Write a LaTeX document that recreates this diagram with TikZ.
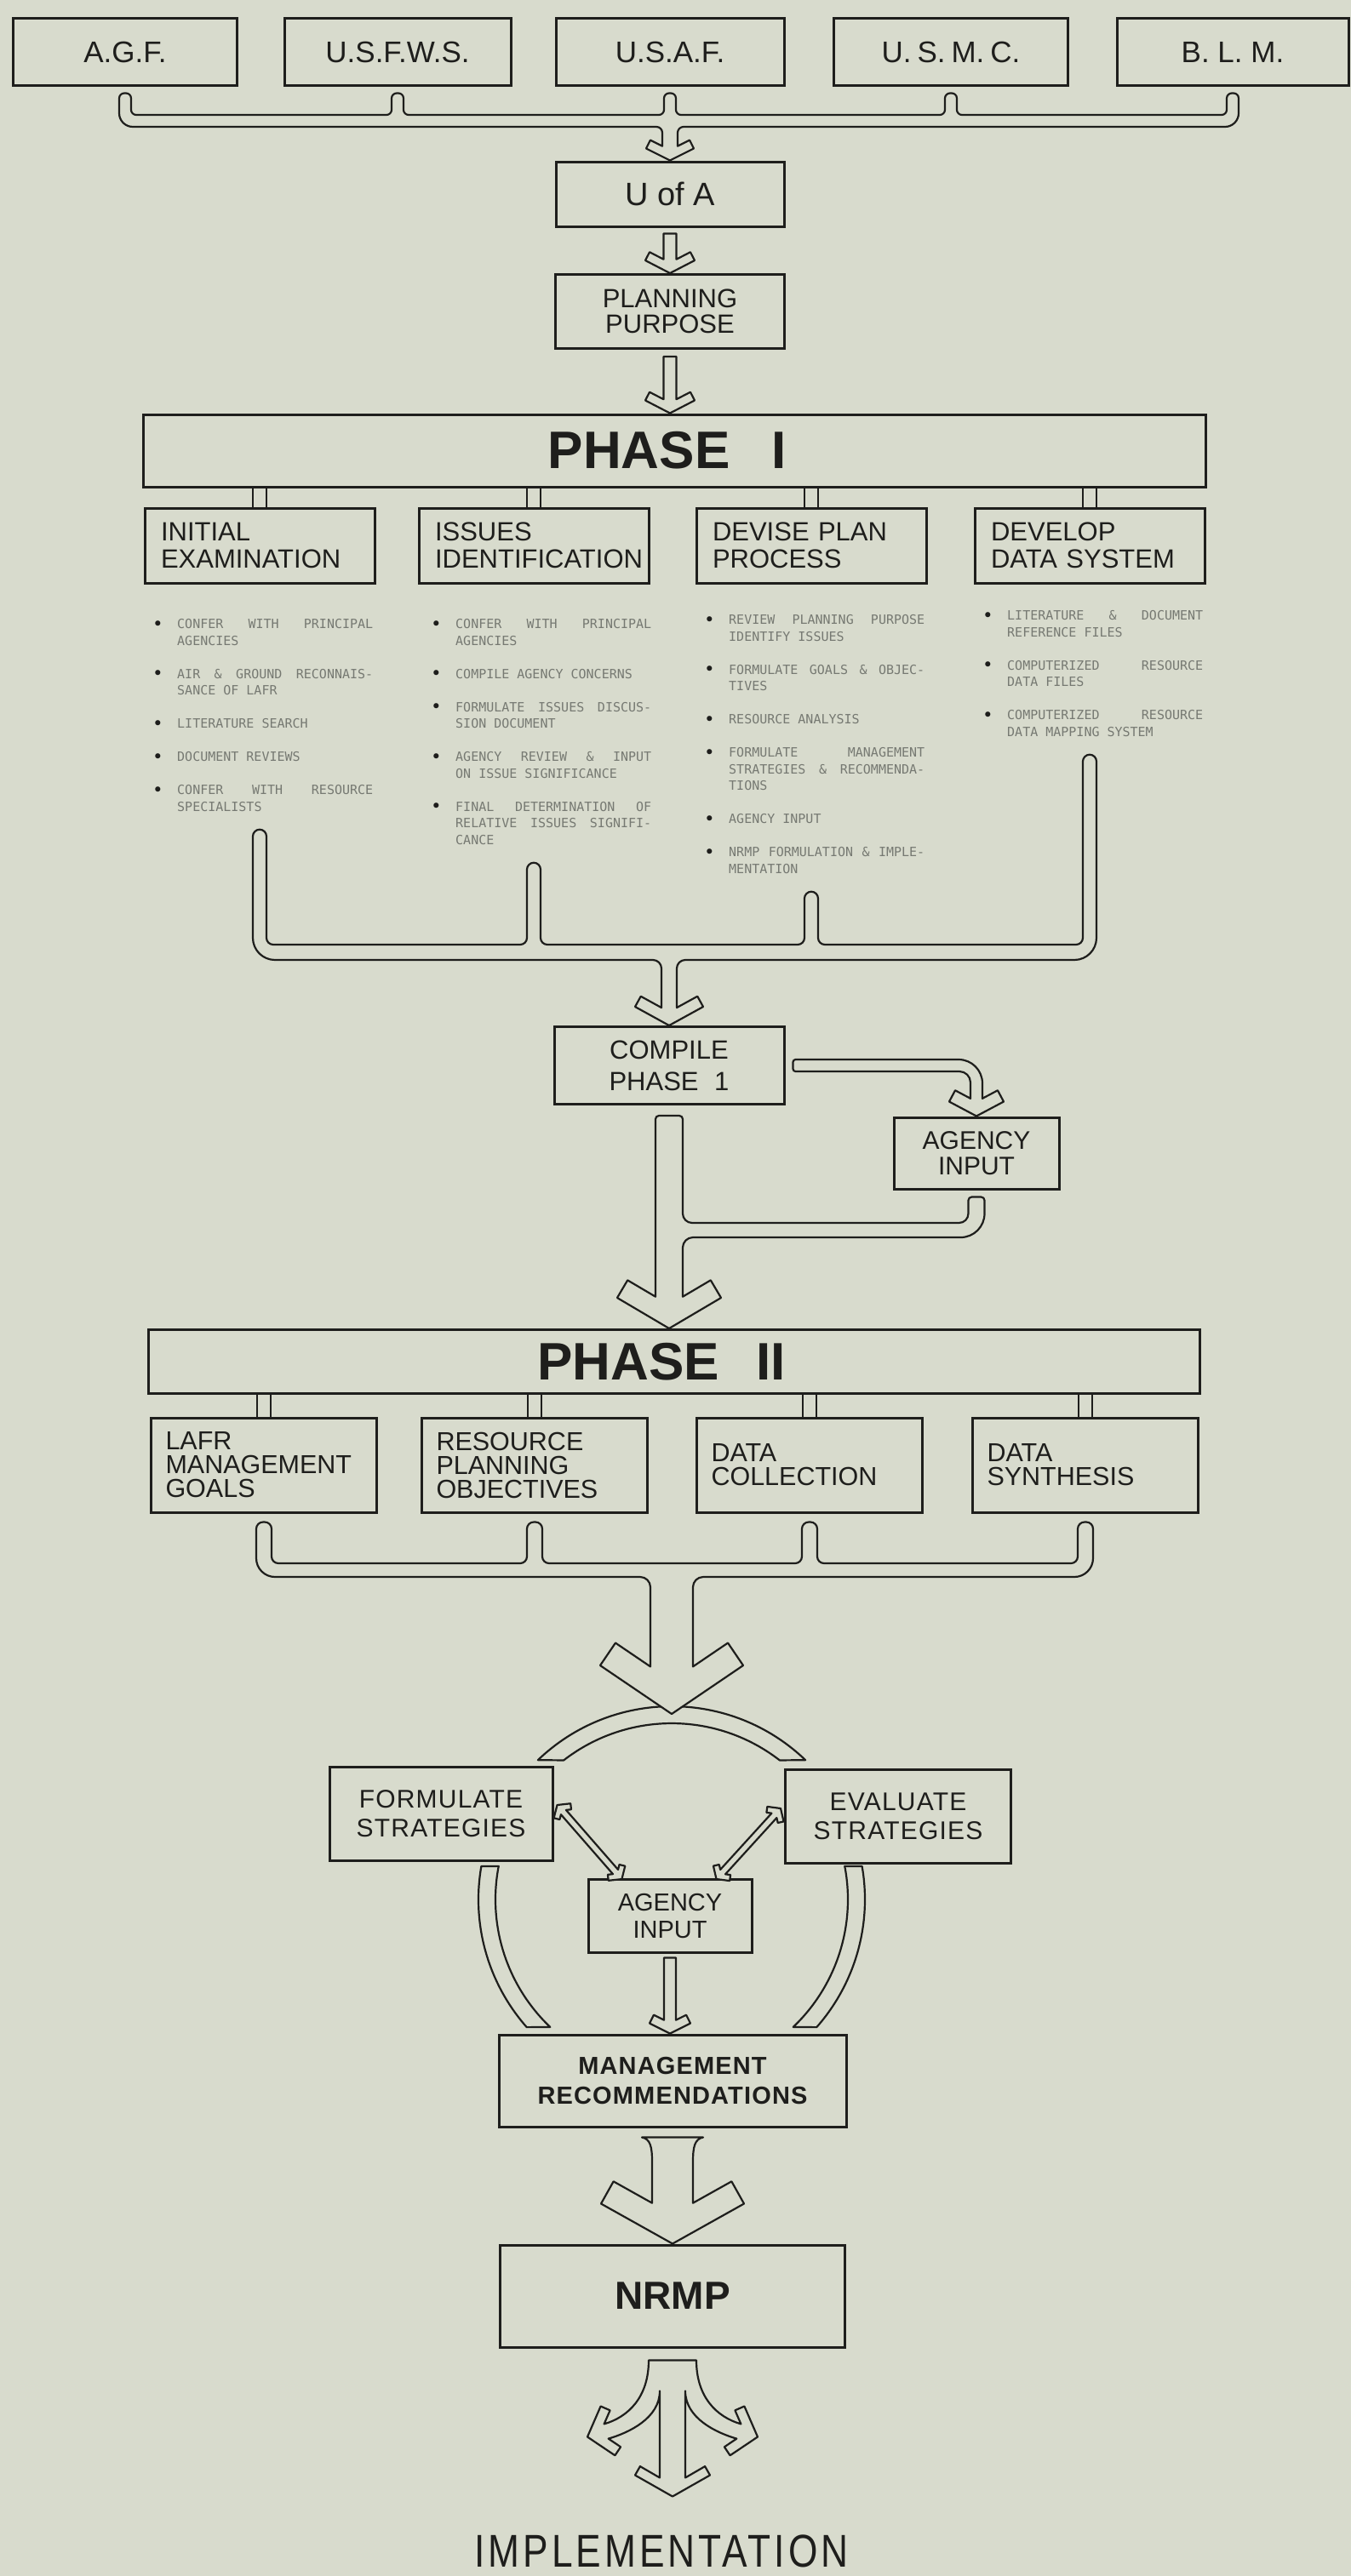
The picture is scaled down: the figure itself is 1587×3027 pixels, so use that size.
\documentclass[tikz,border=0pt]{standalone}
\usepackage{fontspec}
\setmainfont{Liberation Sans}
\newfontfamily\dotfont{DejaVu Sans Mono}
\newfontfamily\trackfont[LetterSpace=4]{Liberation Sans}
\newfontfamily\widefont[LetterSpace=9]{Liberation Sans}
\usepackage{graphicx}
\usetikzlibrary{calc}
\definecolor{bg}{RGB}{216,219,205}
\definecolor{ink}{RGB}{30,30,28}
\definecolor{dotgray}{RGB}{118,121,114}
\tikzset{
  box/.style={draw=ink, line width=3pt, fill=bg, inner sep=0pt, align=center, text=ink},
  agency/.style={box, minimum height=78pt, font=\fontsize{35}{40}\selectfont},
  p1box/.style={box, text width=232pt, inner xsep=19pt, minimum height=88pt, align=left, font=\fontsize{31}{32}\selectfont},
  p2box/.style={box, text width=231pt, inner xsep=17pt, minimum height=111pt, align=left, font=\fontsize{30.5}{28}\selectfont},
  phasebox/.style={box, font=\bfseries\fontsize{62}{62}\selectfont},
  pipe/.style={draw=ink, line width=2.2pt, fill=bg, line join=round},
  stubline/.style={draw=ink, line width=2pt},
  listnode/.style={anchor=north west, inner sep=0pt, text=dotgray},
}
% chevron arrow head: name, tip, left shaft half width, right shaft half width, head half width, drop, wing length
\newcommand\defchev[7]{%
  \pgfmathsetmacro\chL{sqrt((#5)*(#5)+(#6)*(#6))}%
  \pgfmathsetmacro\chWl{(#5)-(#7)*(#6)/\chL}%
  \pgfmathsetmacro\chWb{(#6)+(#7)*(#5)/\chL}%
  \pgfmathsetmacro\chSL{\chWb-(\chWl-(#3))*(#6)/(#5)}%
  \pgfmathsetmacro\chSR{\chWb-(\chWl-(#4))*(#6)/(#5)}%
  \coordinate (#1-T) at (#2);%
  \coordinate (#1-W2L) at ($(#2)+(-#5,-#6)$);%
  \coordinate (#1-W2R) at ($(#2)+(#5,-#6)$);%
  \coordinate (#1-W1L) at ($(#2)+(-\chWl,-\chWb)$);%
  \coordinate (#1-W1R) at ($(#2)+(\chWl,-\chWb)$);%
  \coordinate (#1-SL) at ($(#2)+(-#3,-\chSL)$);%
  \coordinate (#1-SR) at ($(#2)+(#4,-\chSR)$);%
}
\newcommand\dblarrow[1]{%
  \draw[pipe] (0,0) -- (9,13) -- (14.76,9) -- (11.3,4) -- (#1-11.3,4) -- (#1-14.76,9) -- (#1-9,13) -- (#1,0)
   -- (#1-9,-13) -- (#1-14.76,-9) -- (#1-11.3,-4) -- (11.3,-4) -- (14.76,-9) -- (9,-13) -- cycle;}
\newcommand\bul{\makebox[29pt][l]{\textcolor{ink}{\fontsize{21}{19.5}\selectfont\raisebox{-1.5pt}{•}}}}
\newcommand\bitem[1]{\noindent\hangindent=29pt\hangafter=1\relax\bul#1\par}
\newcommand\isep{\vspace{19.5pt}}
\newcommand\listcol[1]{\parbox[t]{259pt}{\dotfont\fontsize{15}{19.5}\selectfont\spaceskip=9.03pt plus 40pt\relax\xspaceskip=\spaceskip\hyphenpenalty=10000\exhyphenpenalty=10000\relax #1}}
\begin{document}
\begin{tikzpicture}[x=1pt,y=-1pt]
\useasboundingbox (0,0) rectangle (1587,3027);
\fill[bg] (0,0) rectangle (1587,3027);

% ---------- nodes ----------
\node[agency, minimum width=263pt] (agf) at (147,61) {A.G.F.};
\node[agency, minimum width=266pt] (usfws) at (467,61) {U.S.F.W.S.};
\node[agency, minimum width=268pt] (usaf) at (787,61) {U.S.A.F.};
\node[agency, minimum width=275pt] (usmc) at (1117,61) {U.\hspace{0.2em}S.\hspace{0.2em}M.\hspace{0.2em}C.};
\node[agency, minimum width=272pt] (blm) at (1448,61) {B. L. M.};

\node[box, minimum width=268pt, minimum height=76pt, font=\fontsize{38}{40}\selectfont] (uofa) at (787,228) {U of A};
\node[box, minimum width=269pt, minimum height=87pt, font=\fontsize{31}{30}\selectfont] (pp) at (787,366) {PLANNING\\PURPOSE};
\node[phasebox, minimum width=1248pt, minimum height=85pt] (phase1) at (792,529.5) {PHASE\hspace{0.8em}I\hspace{16pt}};

\node[p1box] (p1a) at (305,641) {INITIAL\\EXAMINATION};
\node[p1box] (p1b) at (627,641) {ISSUES\\IDENTIFICATION};
\node[p1box] (p1c) at (953,641) {DEVISE PLAN\\PROCESS};
\node[p1box] (p1d) at (1280,641) {DEVELOP\\DATA SYSTEM};

\node[listnode] (l1) at (179,727.5) {\listcol{%
\bitem{CONFER WITH PRINCIPAL\linebreak AGENCIES}\isep
\bitem{AIR \& GROUND RECONNAIS-\linebreak SANCE OF LAFR}\isep
\bitem{LITERATURE SEARCH}\isep
\bitem{DOCUMENT REVIEWS}\isep
\bitem{CONFER WITH RESOURCE\linebreak SPECIALISTS}}};
\node[listnode] (l2) at (506,727.5) {\listcol{%
\bitem{CONFER WITH PRINCIPAL\linebreak AGENCIES}\isep
\bitem{COMPILE AGENCY CONCERNS}\isep
\bitem{FORMULATE ISSUES DISCUS-\linebreak SION DOCUMENT}\isep
\bitem{AGENCY REVIEW \& INPUT\linebreak ON ISSUE SIGNIFICANCE}\isep
\bitem{FINAL DETERMINATION OF\linebreak RELATIVE ISSUES SIGNIFI-\linebreak CANCE}}};
\node[listnode] (l3) at (827,722.5) {\listcol{%
\bitem{REVIEW PLANNING PURPOSE\linebreak IDENTIFY ISSUES}\isep
\bitem{FORMULATE GOALS \& OBJEC-\linebreak TIVES}\isep
\bitem{RESOURCE ANALYSIS}\isep
\bitem{FORMULATE MANAGEMENT\linebreak STRATEGIES \& RECOMMENDA-\linebreak TIONS}\isep
\bitem{AGENCY INPUT}\isep
\bitem{NRMP FORMULATION \& IMPLE-\linebreak MENTATION}}};
\node[listnode] (l4) at (1154,717.5) {\listcol{%
\bitem{LITERATURE \& DOCUMENT\linebreak REFERENCE FILES}\isep
\bitem{COMPUTERIZED RESOURCE\linebreak DATA FILES}\isep
\bitem{COMPUTERIZED RESOURCE\linebreak DATA MAPPING SYSTEM}}};

\node[box, minimum width=270pt, minimum height=91pt, font=\fontsize{31}{37}\selectfont] (compile) at (786,1252) {COMPILE\\PHASE\hspace{0.6em}1};
\node[box, minimum width=194pt, minimum height=84pt, font=\fontsize{30}{30}\selectfont] (ag1) at (1147,1355) {AGENCY\\INPUT};

\node[phasebox, minimum width=1235pt, minimum height=75pt] (phase2) at (792,1600) {PHASE\hspace{0.7em}II\hspace{30pt}};
\node[p2box] (p2a) at (310,1721.5) {LAFR\\MANAGEMENT\\GOALS};
\node[p2box] (p2b) at (628,1721.5) {RESOURCE\\PLANNING\\OBJECTIVES};
\node[p2box] (p2c) at (951,1721.5) {DATA\\COLLECTION};
\node[p2box] (p2d) at (1275,1721.5) {DATA\\SYNTHESIS};

\node[box, minimum width=262pt, minimum height=110pt, font=\trackfont\fontsize{30}{34}\selectfont] (form) at (518,2131) {FORMULATE\\STRATEGIES};
\node[box, minimum width=265pt, minimum height=110pt, font=\trackfont\fontsize{30}{34}\selectfont] (evals) at (1055,2134) {EVALUATE\\STRATEGIES};
\node[box, minimum width=192pt, minimum height=86pt, font=\fontsize{29}{32}\selectfont] (ag2) at (787,2251) {AGENCY\\INPUT};
\node[box, minimum width=408pt, minimum height=108pt, font=\trackfont\bfseries\fontsize{29}{35}\selectfont] (mgmt) at (790,2445) {MANAGEMENT\\RECOMMENDATIONS};
\node[box, minimum width=405pt, minimum height=120pt, font=\bfseries\fontsize{46}{46}\selectfont] (nrmp) at (790,2698) {NRMP};
\node[inner sep=0pt, text=ink, font=\widefont\fontsize{54}{54}\selectfont] (impl) at (777,2998) {\scalebox{0.82}[1]{IMPLEMENTATION}};

% ---------- helper coordinates ----------
\coordinate (tbT) at (0,135);
\coordinate (tbB) at (0,149);
\coordinate (cbT) at (0,1110);
\coordinate (cbB) at (0,1128);
\coordinate (mrgT) at (0,1437);
\coordinate (mrgB) at (0,1454);
\coordinate (dbT) at (0,1837);
\coordinate (dbB) at (0,1853);
\coordinate (p2tip) at (789,2014);
\coordinate (arcc) at (789,2232);
\coordinate (tipC) at (pp |- phase1.north);
\coordinate (tipF) at (compile |- phase2.north);
\coordinate (tipL) at (ag2 |- mgmt.north);

% ---------- agencies -> U of A ----------
\defchev{ha}{uofa.north}{9}{9}{28}{14}{11}
\draw[pipe] ($(agf.south)+(-7,20)$)
 [rounded corners=6] -- ($(agf.south)+(-7,8)$) -- ($(agf.south)+(7,8)$) -- ($(agf|-tbT)+(7,0)$)
 -- ($(usfws|-tbT)+(-7,0)$) -- ($(usfws.south)+(-7,8)$) -- ($(usfws.south)+(7,8)$) -- ($(usfws|-tbT)+(7,0)$)
 -- ($(usaf|-tbT)+(-7,0)$) -- ($(usaf.south)+(-7,8)$) -- ($(usaf.south)+(7,8)$) -- ($(usaf|-tbT)+(7,0)$)
 -- ($(usmc|-tbT)+(-7,0)$) -- ($(usmc.south)+(-7,8)$) -- ($(usmc.south)+(7,8)$) -- ($(usmc|-tbT)+(7,0)$)
 -- ($(blm|-tbT)+(-7,0)$) -- ($(blm.south)+(-7,8)$) -- ($(blm.south)+(7,8)$)
 [rounded corners=16] -- ($(blm|-tbB)+(7,0)$)
 [rounded corners=7] -- ($(uofa|-tbB)+(9,0)$)
 [sharp corners] -- (ha-SR) -- (ha-W1R) -- (ha-W2R) -- (ha-T) -- (ha-W2L) -- (ha-W1L) -- (ha-SL)
 [rounded corners=7] -- ($(uofa|-tbB)+(-9,0)$)
 [rounded corners=16] -- ($(agf|-tbB)+(-7,0)$)
 [sharp corners] -- cycle;

% ---------- U of A -> Planning Purpose -> Phase I ----------
\defchev{hb}{pp.north}{7.5}{7.5}{29}{15}{11}
\draw[pipe] ($(uofa.south)+(-7.5,7)$) -- (hb-SL) -- (hb-W1L) -- (hb-W2L) -- (hb-T) -- (hb-W2R) -- (hb-W1R) -- (hb-SR) -- ($(uofa.south)+(7.5,7)$) -- cycle;
\defchev{hc}{tipC}{7.5}{7.5}{29}{15}{11}
\draw[pipe] ($(pp.south)+(-7.5,8)$) -- (hc-SL) -- (hc-W1L) -- (hc-W2L) -- (hc-T) -- (hc-W2R) -- (hc-W1R) -- (hc-SR) -- ($(pp.south)+(7.5,8)$) -- cycle;

% ---------- Phase I links ----------
\foreach \n in {p1a,p1b,p1c,p1d}{
  \draw[stubline] ($(\n.north)+(-8,0)$) -- ($(\n |- phase1.south)+(-8,0)$);
  \draw[stubline] ($(\n.north)+(8,0)$) -- ($(\n |- phase1.south)+(8,0)$);
}

% ---------- Phase I columns -> Compile ----------
\defchev{hd}{compile.north}{9}{9}{40}{22}{14}
\draw[pipe] ($(p1a|-cbT)+(-8,-45)$)
 [rounded corners=8] -- ($(p1a|-l1.south)+(-8,21)$) -- ($(p1a|-l1.south)+(8,21)$) -- ($(p1a|-cbT)+(8,0)$)
 -- ($(p1b|-cbT)+(-8,0)$) -- ($(p1b|-l2.south)+(-8,21)$) -- ($(p1b|-l2.south)+(8,21)$) -- ($(p1b|-cbT)+(8,0)$)
 -- ($(p1c|-cbT)+(-8,0)$) -- ($(p1c|-l3.south)+(-8,21)$) -- ($(p1c|-l3.south)+(8,21)$) -- ($(p1c|-cbT)+(8,0)$)
 -- ($(p1d|-cbT)+(-8,0)$) -- ($(p1d|-l4.south)+(-8,21)$) -- ($(p1d|-l4.south)+(8,21)$)
 [rounded corners=26] -- ($(p1d|-cbB)+(8,0)$)
 [rounded corners=10] -- ($(compile|-cbB)+(9,0)$)
 [sharp corners] -- (hd-SR) -- (hd-W1R) -- (hd-W2R) -- (hd-T) -- (hd-W2L) -- (hd-W1L) -- (hd-SL)
 [rounded corners=10] -- ($(compile|-cbB)+(-9,0)$)
 [rounded corners=26] -- ($(p1a|-cbB)+(-8,0)$)
 [sharp corners] -- cycle;

% ---------- Compile -> Agency input ----------
\defchev{he}{ag1.north}{7}{7}{32}{17}{15}
\draw[pipe] ($(compile.east)+(60,-7)$)
 [rounded corners=28] -- ($(ag1|-compile.east)+(7,-7)$)
 [sharp corners] -- (he-SR) -- (he-W1R) -- (he-W2R) -- (he-T) -- (he-W2L) -- (he-W1L) -- (he-SL)
 [rounded corners=13] -- ($(ag1|-compile.east)+(-7,7)$)
 [rounded corners=3] -- ($(compile.east)+(9,7)$) -- ($(compile.east)+(9,-7)$)
 [sharp corners] -- cycle;

% ---------- Compile + Agency input -> Phase II ----------
\defchev{hf}{tipF}{16}{16}{61}{36}{24}
\draw[pipe] ($(compile.south)+(-16,40)$)
 [rounded corners=4] -- ($(compile.south)+(-16,12)$) -- ($(compile.south)+(16,12)$)
 [rounded corners=11] -- ($(compile|-mrgT)+(16,0)$) -- ($(ag1|-mrgT)+(-9.5,0)$)
 [rounded corners=4] -- ($(ag1.south)+(-9.5,8)$) -- ($(ag1.south)+(9.5,8)$)
 [rounded corners=28] -- ($(ag1|-mrgB)+(9.5,0)$)
 [rounded corners=12] -- ($(compile|-mrgB)+(16,0)$)
 [sharp corners] -- (hf-SR) -- (hf-W1R) -- (hf-W2R) -- (hf-T) -- (hf-W2L) -- (hf-W1L) -- (hf-SL) -- cycle;

% ---------- Phase II links ----------
\foreach \n in {p2a,p2b,p2c,p2d}{
  \draw[stubline] ($(\n.north)+(-8,0)$) -- ($(\n |- phase2.south)+(-8,0)$);
  \draw[stubline] ($(\n.north)+(8,0)$) -- ($(\n |- phase2.south)+(8,0)$);
}

% ---------- strategy cycle arcs ----------
\draw[pipe] ($(arcc)+(133.8:227pt)$) arc[start angle=133.8, end angle=46.2, radius=227pt]
  -- ($(arcc)+(52.2:207pt)$) arc[start angle=52.2, end angle=127.8, radius=207pt] -- cycle;
\draw[pipe] ($(arcc)+(170.1:227pt)$) arc[start angle=170.1, end angle=221.4, radius=227pt]
  -- ($(arcc)+(226.4:207pt)$) arc[start angle=226.4, end angle=169.1, radius=207pt] -- cycle;
\draw[pipe] ($(arcc)+(9.9:227pt)$) arc[start angle=9.9, end angle=-41.4, radius=227pt]
  -- ($(arcc)+(-46.4:207pt)$) arc[start angle=-46.4, end angle=10.9, radius=207pt] -- cycle;

% ---------- Phase II columns -> cycle ----------
\defchev{hg}{p2tip}{25}{25}{84}{57}{32}
\draw[pipe] ($(p2a|-dbT)+(-9,-30)$)
 [rounded corners=8] -- ($(p2a.south)+(-9,10)$) -- ($(p2a.south)+(9,10)$) -- ($(p2a|-dbT)+(9,0)$)
 -- ($(p2b|-dbT)+(-9,0)$) -- ($(p2b.south)+(-9,10)$) -- ($(p2b.south)+(9,10)$) -- ($(p2b|-dbT)+(9,0)$)
 -- ($(p2c|-dbT)+(-9,0)$) -- ($(p2c.south)+(-9,10)$) -- ($(p2c.south)+(9,10)$) -- ($(p2c|-dbT)+(9,0)$)
 -- ($(p2d|-dbT)+(-9,0)$) -- ($(p2d.south)+(-9,10)$) -- ($(p2d.south)+(9,10)$)
 [rounded corners=22] -- ($(p2d|-dbB)+(9,0)$)
 [rounded corners=12] -- ($(p2tip|-dbB)+(25,0)$)
 [sharp corners] -- (hg-SR) -- (hg-W1R) -- (hg-W2R) -- (hg-T) -- (hg-W2L) -- (hg-W1L) -- (hg-SL)
 [rounded corners=12] -- ($(p2tip|-dbB)+(-25,0)$)
 [rounded corners=22] -- ($(p2a|-dbB)+(-9,0)$)
 [sharp corners] -- cycle;

% ---------- strategies <-> agency input ----------
\begin{scope}[shift={($(form.east)+(4,-10)$)}, rotate=-48.9]
  \dblarrow{115.5}
\end{scope}
\begin{scope}[shift={($(evals.west)+(-4,-9)$)}, rotate=-132.3]
  \dblarrow{112.2}
\end{scope}

% ---------- agency input -> management ----------
\defchev{hl}{tipL}{7}{7}{24}{12}{11}
\draw[pipe] ($(ag2.south)+(-7,5)$) -- (hl-SL) -- (hl-W1L) -- (hl-W2L) -- (hl-T) -- (hl-W2R) -- (hl-W1R) -- (hl-SR) -- ($(ag2.south)+(7,5)$) -- cycle;

% ---------- management -> NRMP ----------
\defchev{hm}{nrmp.north}{24}{24}{84}{47}{30}
\draw[pipe] ($(mgmt.south)+(-36,11)$) .. controls ($(mgmt.south)+(-26,13)$) and ($(mgmt.south)+(-24,22)$) .. ($(mgmt.south)+(-24,40)$)
 -- (hm-SL) -- (hm-W1L) -- (hm-W2L) -- (hm-T) -- (hm-W2R) -- (hm-W1R) -- (hm-SR)
 -- ($(mgmt.south)+(24,40)$) .. controls ($(mgmt.south)+(24,22)$) and ($(mgmt.south)+(26,13)$) .. ($(mgmt.south)+(36,11)$) -- cycle;

% ---------- NRMP -> implementation (three-way) ----------
\begin{scope}[shift={(nrmp.south)}]
\draw[pipe] (-28,14) .. controls (-28,57) and (-51.6,80.5) .. (-80.4,88.9) -- (-73.4,72.8) -- (-84.4,68) -- (-100,104)
 -- (-67.6,125.8) -- (-60.9,115.8) -- (-75.3,106.1) .. controls (-51.3,99.1) and (-15,82) .. (-15,50)
 -- (-15,152) -- (-38.1,138.6) -- (-44,149) -- (0,174) -- (44,149) -- (38.1,138.6) -- (15,152)
 -- (15,50) .. controls (15,82) and (51.3,99.1) .. (75.3,106.1) -- (60.9,115.8) -- (67.6,125.8) -- (100,104)
 -- (84.4,68) -- (73.4,72.8) -- (80.4,88.9) .. controls (51.6,80.5) and (28,57) .. (28,14) -- cycle;
\end{scope}
\end{tikzpicture}
\end{document}
